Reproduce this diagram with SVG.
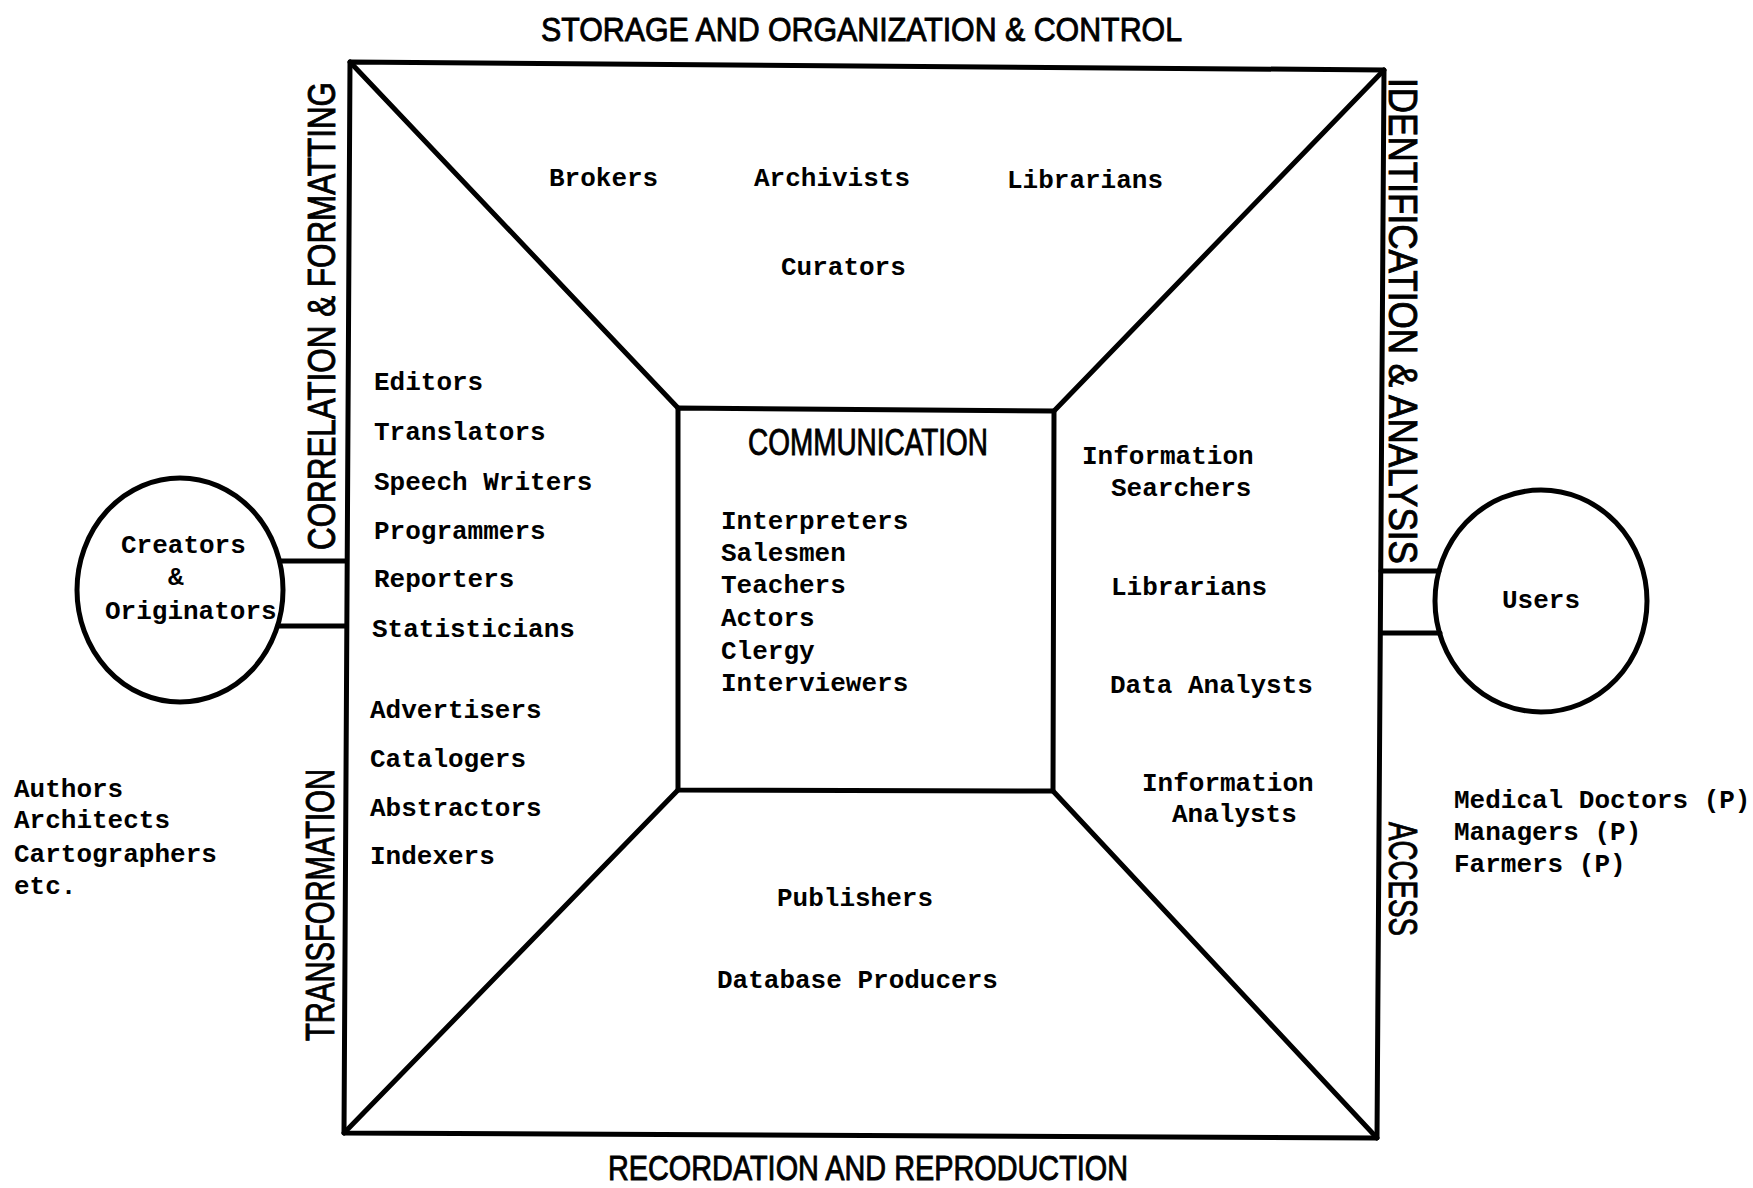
<svg xmlns="http://www.w3.org/2000/svg" width="1753" height="1188" viewBox="0 0 1753 1188">
<style>
.ln{fill:none;stroke:#000;stroke-width:5;stroke-linecap:round;stroke-linejoin:round}
.m{font-family:"Liberation Mono","DejaVu Sans Mono",monospace;font-weight:bold;font-size:26px;fill:#000}
.h{font-family:"Liberation Sans","DejaVu Sans",sans-serif;fill:#000;stroke:#000;stroke-width:0.9}
</style>
<rect width="1753" height="1188" fill="#fff"/>
<g id="frame">
<polygon class="ln" points="350,62 1384,70 1377,1138 344,1133"/>
<polygon class="ln" points="678,408 1054,411 1053,791 678,790"/>
<line class="ln" x1="350" y1="62" x2="678" y2="408"/>
<line class="ln" x1="1384" y1="70" x2="1054" y2="411"/>
<line class="ln" x1="1377" y1="1138" x2="1053" y2="791"/>
<line class="ln" x1="344" y1="1133" x2="678" y2="790"/>
</g>
<g id="side-labels">
<text class="h" x="541" y="41" font-size="34" textLength="641" lengthAdjust="spacingAndGlyphs">STORAGE AND ORGANIZATION &amp; CONTROL</text>
<text class="h" x="608" y="1180" font-size="35" textLength="520" lengthAdjust="spacingAndGlyphs">RECORDATION AND REPRODUCTION</text>
<text class="h" font-size="39" textLength="468" lengthAdjust="spacingAndGlyphs" transform="translate(335,550) rotate(-90)">CORRELATION &amp; FORMATTING</text>
<text class="h" font-size="40" textLength="272" lengthAdjust="spacingAndGlyphs" transform="translate(334,1041) rotate(-90)">TRANSFORMATION</text>
<text class="h" font-size="40" textLength="486" lengthAdjust="spacingAndGlyphs" transform="translate(1389,78) rotate(90)">IDENTIFICATION &amp; ANALYSIS</text>
<text class="h" font-size="40" textLength="114" lengthAdjust="spacingAndGlyphs" transform="translate(1389,822) rotate(90)">ACCESS</text>
</g>
<g id="storage">
<text class="m" x="549" y="186">Brokers</text>
<text class="m" x="754" y="186">Archivists</text>
<text class="m" x="1007" y="188">Librarians</text>
<text class="m" x="781" y="275">Curators</text>
</g>
<g id="correlation">
<text class="m" x="374" y="390">Editors</text>
<text class="m" x="374" y="440">Translators</text>
<text class="m" x="374" y="490">Speech Writers</text>
<text class="m" x="374" y="539">Programmers</text>
<text class="m" x="374" y="587">Reporters</text>
<text class="m" x="372" y="637">Statisticians</text>
</g>
<g id="transformation">
<text class="m" x="370" y="718">Advertisers</text>
<text class="m" x="370" y="767">Catalogers</text>
<text class="m" x="370" y="816">Abstractors</text>
<text class="m" x="370" y="864">Indexers</text>
</g>
<g id="communication">
<text class="h" x="748" y="455" font-size="37" textLength="240" lengthAdjust="spacingAndGlyphs">COMMUNICATION</text>
<text class="m" x="721" y="529">Interpreters</text>
<text class="m" x="721" y="561">Salesmen</text>
<text class="m" x="721" y="593">Teachers</text>
<text class="m" x="721" y="626">Actors</text>
<text class="m" x="721" y="659">Clergy</text>
<text class="m" x="721" y="691">Interviewers</text>
</g>
<g id="identification">
<text class="m" x="1082" y="464">Information</text>
<text class="m" x="1111" y="496">Searchers</text>
<text class="m" x="1111" y="595">Librarians</text>
<text class="m" x="1110" y="693">Data Analysts</text>
<text class="m" x="1142" y="791">Information</text>
<text class="m" x="1172" y="822">Analysts</text>
</g>
<g id="recordation">
<text class="m" x="777" y="906">Publishers</text>
<text class="m" x="717" y="988">Database Producers</text>
</g>
<g id="creators">
<ellipse class="ln" cx="180" cy="590" rx="103" ry="112"/>
<text class="m" x="121" y="553">Creators</text>
<text class="m" x="168" y="585">&amp;</text>
<text class="m" x="105" y="619">Originators</text>
</g>
<g id="creator-examples">
<text class="m" x="14" y="797">Authors</text>
<text class="m" x="14" y="828">Architects</text>
<text class="m" x="14" y="862">Cartographers</text>
<text class="m" x="14" y="894">etc.</text>
</g>
<g id="users">
<ellipse class="ln" cx="1541" cy="601" rx="106" ry="111"/>
<text class="m" x="1502" y="608">Users</text>
</g>
<g id="user-examples">
<text class="m" x="1454" y="808">Medical Doctors (P)</text>
<text class="m" x="1454" y="840">Managers (P)</text>
<text class="m" x="1454" y="872">Farmers (P)</text>
</g>
<g id="connectors">
<line class="ln" x1="280" y1="561" x2="346" y2="561"/>
<line class="ln" x1="278" y1="626" x2="345" y2="626"/>
<line class="ln" x1="1381" y1="571" x2="1439" y2="571"/>
<line class="ln" x1="1381" y1="633" x2="1440" y2="633"/>
</g>
</svg>
